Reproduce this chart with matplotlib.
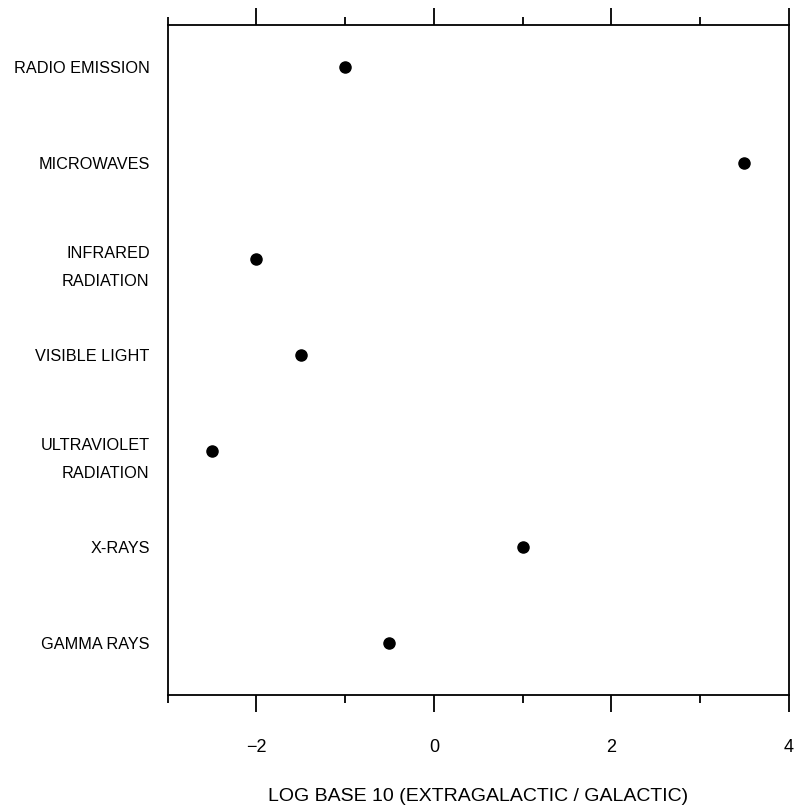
import matplotlib
matplotlib.use("Agg")
import matplotlib.pyplot as plt
from matplotlib.ticker import MultipleLocator

plt.rcParams['font.family'] = ['Liberation Sans', 'DejaVu Sans']

# Spectral bands, top to bottom, and their log10(extragalactic / galactic) ratios
bands = ["RADIO EMISSION", "MICROWAVES", "INFRARED\nRADIATION", "VISIBLE LIGHT",
         "ULTRAVIOLET\nRADIATION", "X-RAYS", "GAMMA RAYS"]
log_ratio = [-1.0, 3.5, -2.0, -1.5, -2.5, 1.0, -0.5]
x_ticks = [-2, 0, 2, 4]

fig = plt.figure(figsize=(7.95, 8.09), dpi=100)
ax = fig.add_axes([0.211, 0.141, 0.781, 0.828])

ypos = list(range(len(bands)))
ax.plot(log_ratio, ypos, 'o', color='black', markersize=8, linestyle='none')

ax.set_xlim(-3, 4)
ax.set_ylim(6.54, -0.44)
ax.set_xticks(x_ticks)
ax.xaxis.set_minor_locator(MultipleLocator(1))
ax.tick_params(axis='x', which='major', direction='out', length=12, width=1.3,
               top=True, labeltop=False, pad=20, labelsize=13)
ax.tick_params(axis='x', which='minor', direction='out', length=6, width=1.3, top=True)

ax.set_yticks(ypos)
ax.set_yticklabels(bands, linespacing=2.1)
ax.tick_params(axis='y', length=0, pad=13, labelsize=11.7)
for lbl in ax.get_yticklabels():
    lbl.set_horizontalalignment('right')
    lbl.set_multialignment('right')

for s in ax.spines.values():
    s.set_linewidth(1.3)

ax.set_xlabel("LOG BASE 10 (EXTRAGALACTIC / GALACTIC)", fontsize=14, labelpad=23)

fig.savefig("out.png", dpi=100)
